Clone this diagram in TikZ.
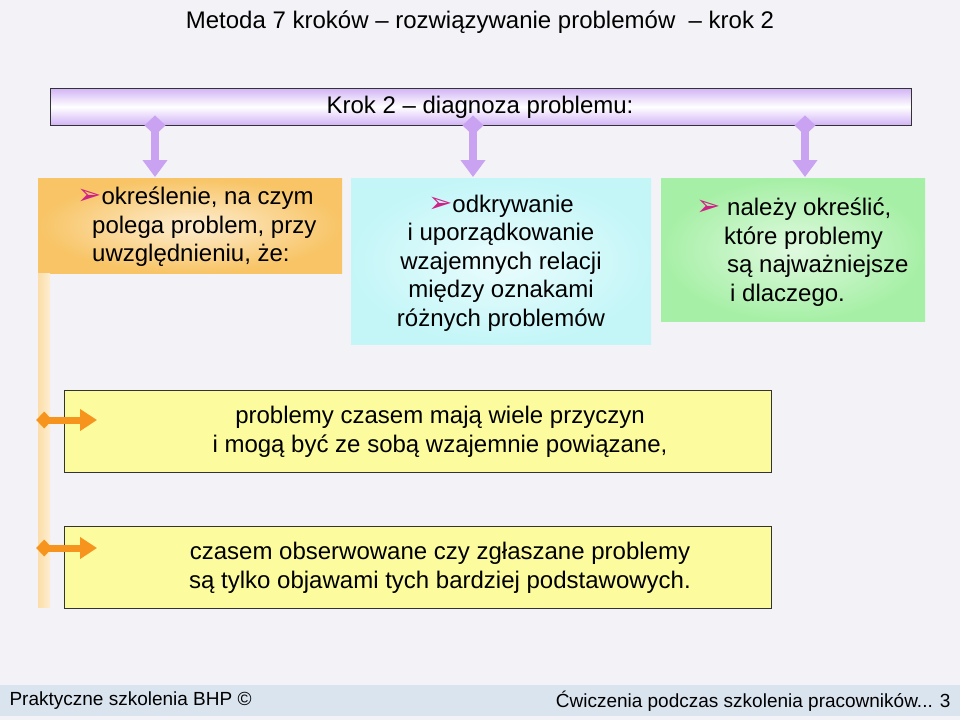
\documentclass[tikz,border=0pt]{standalone}
\usepackage{fontspec}
\setmainfont{Liberation Sans}
\newfontfamily\symfont{DejaVu Sans}
\usetikzlibrary{arrows.meta}
\definecolor{lav}{HTML}{D2B4F6}
\definecolor{lavarr}{HTML}{C9A2F2}
\definecolor{orng}{HTML}{F8C465}
\definecolor{orngarr}{HTML}{F7941D}
\definecolor{cyn}{HTML}{C4F6F8}
\definecolor{grn}{HTML}{A6EFA6}
\definecolor{ylw}{HTML}{FCFC9E}
\definecolor{foot}{HTML}{DAE4EF}
\definecolor{bgc}{HTML}{F3F2F7}
\newcommand{\bul}{{\symfont\fontsize{29}{29}\selectfont\color{magenta!85!black}➢}}
\tikzset{
  box/.style={anchor=north west,inner sep=0pt},
  txt/.style={font=\fontsize{24}{28.5}\selectfont,inner sep=0pt},
  lavline/.style={lavarr,line width=8pt,{Diamond[length=20pt,width=21pt]}-{Triangle[length=17pt,width=24pt]}},
  orline/.style={orngarr,line width=7pt,{Diamond[length=16pt,width=17pt]}-{Triangle[length=17pt,width=21pt]}}
}
\begin{document}
\begin{tikzpicture}[x=1pt,y=-1pt]
\fill[bgc] (0,0) rectangle (960,720);
\useasboundingbox (0,0) rectangle (960,720);
% title
\node[txt] (title) at (480,22) {Metoda 7 kroków -- rozwiązywanie problemów \ -- krok 2};
% header
\node[box,draw=black!80,minimum width=861pt,minimum height=37pt,top color=lav,bottom color=lav,middle color=white] (hdr) at (50,88) {};
\node[txt] (hdrtxt) at (480,107) {Krok 2 -- diagnoza problemu:};
% three boxes
\node[box,minimum width=304pt,minimum height=95pt,inner color=orng!30,outer color=orng] (okr) at (38,178) {};
\node[box,minimum width=12pt,minimum height=334pt,left color=orng!55,right color=orng!30] (bar) at (38,273) {};
\node[box,minimum width=300pt,minimum height=166pt,inner color=cyn!35,outer color=cyn] (odk) at (351,178) {};
\node[box,minimum width=264pt,minimum height=143pt,inner color=grn!35,outer color=grn] (nal) at (661,178) {};
\node[txt,align=left,anchor=west] (okrtxt) at (77,227) {\bul określenie, na czym\\\hspace{15pt}polega problem, przy\\\hspace{15pt}uwzględnieniu, że:};
\node[txt,align=center] (odktxt) at (501,263) {\bul odkrywanie\\i uporządkowanie\\ wzajemnych relacji\\między oznakami\\różnych problemów};
\node[txt,align=left,anchor=west] (naltxt) at (696,252) {\bul\ należy określić,\\\hspace{28pt}które problemy\\\hspace{31pt}są najważniejsze\\\hspace{34pt}i dlaczego.};
\coordinate (c1) at (155,177);
\coordinate (c2) at (473,177);
\coordinate (c3) at (805,177);
\foreach \c in {c1,c2,c3}
  \draw[lavline] ([yshift=10pt]hdr.south -| \c) -- (\c);
% yellow boxes
\node[box,draw=black!80,fill=ylw,minimum width=707pt,minimum height=82pt] (prz) at (64,390) {};
\node[box,draw=black!80,fill=ylw,minimum width=707pt,minimum height=82pt] (obj) at (64,526) {};
\node[txt,align=center] (prztxt) at (440,432) {problemy czasem mają wiele przyczyn\\i mogą być ze sobą wzajemnie powiązane,};
\node[txt,align=center] (objtxt) at (440,568) {czasem obserwowane czy zgłaszane problemy\\są tylko objawami tych bardziej podstawowych.};
\coordinate (p1) at (97,420);
\coordinate (p2) at (97,548);
\draw[orline] ([xshift=-8pt]bar.center |- p1) -- (p1);
\draw[orline] ([xshift=-8pt]bar.center |- p2) -- (p2);
% footer
\node[box,fill=foot,minimum width=960pt,minimum height=31pt] (ftr) at (0,685) {};
\node[anchor=west,font=\fontsize{19}{22}\selectfont] (ftl) at (6,701) {Praktyczne szkolenia BHP ©};
\node[anchor=east,font=\fontsize{19}{22}\selectfont] (ftr2) at (954,701) {Ćwiczenia podczas szkolenia pracowników... 3};
\end{tikzpicture}
\end{document}
